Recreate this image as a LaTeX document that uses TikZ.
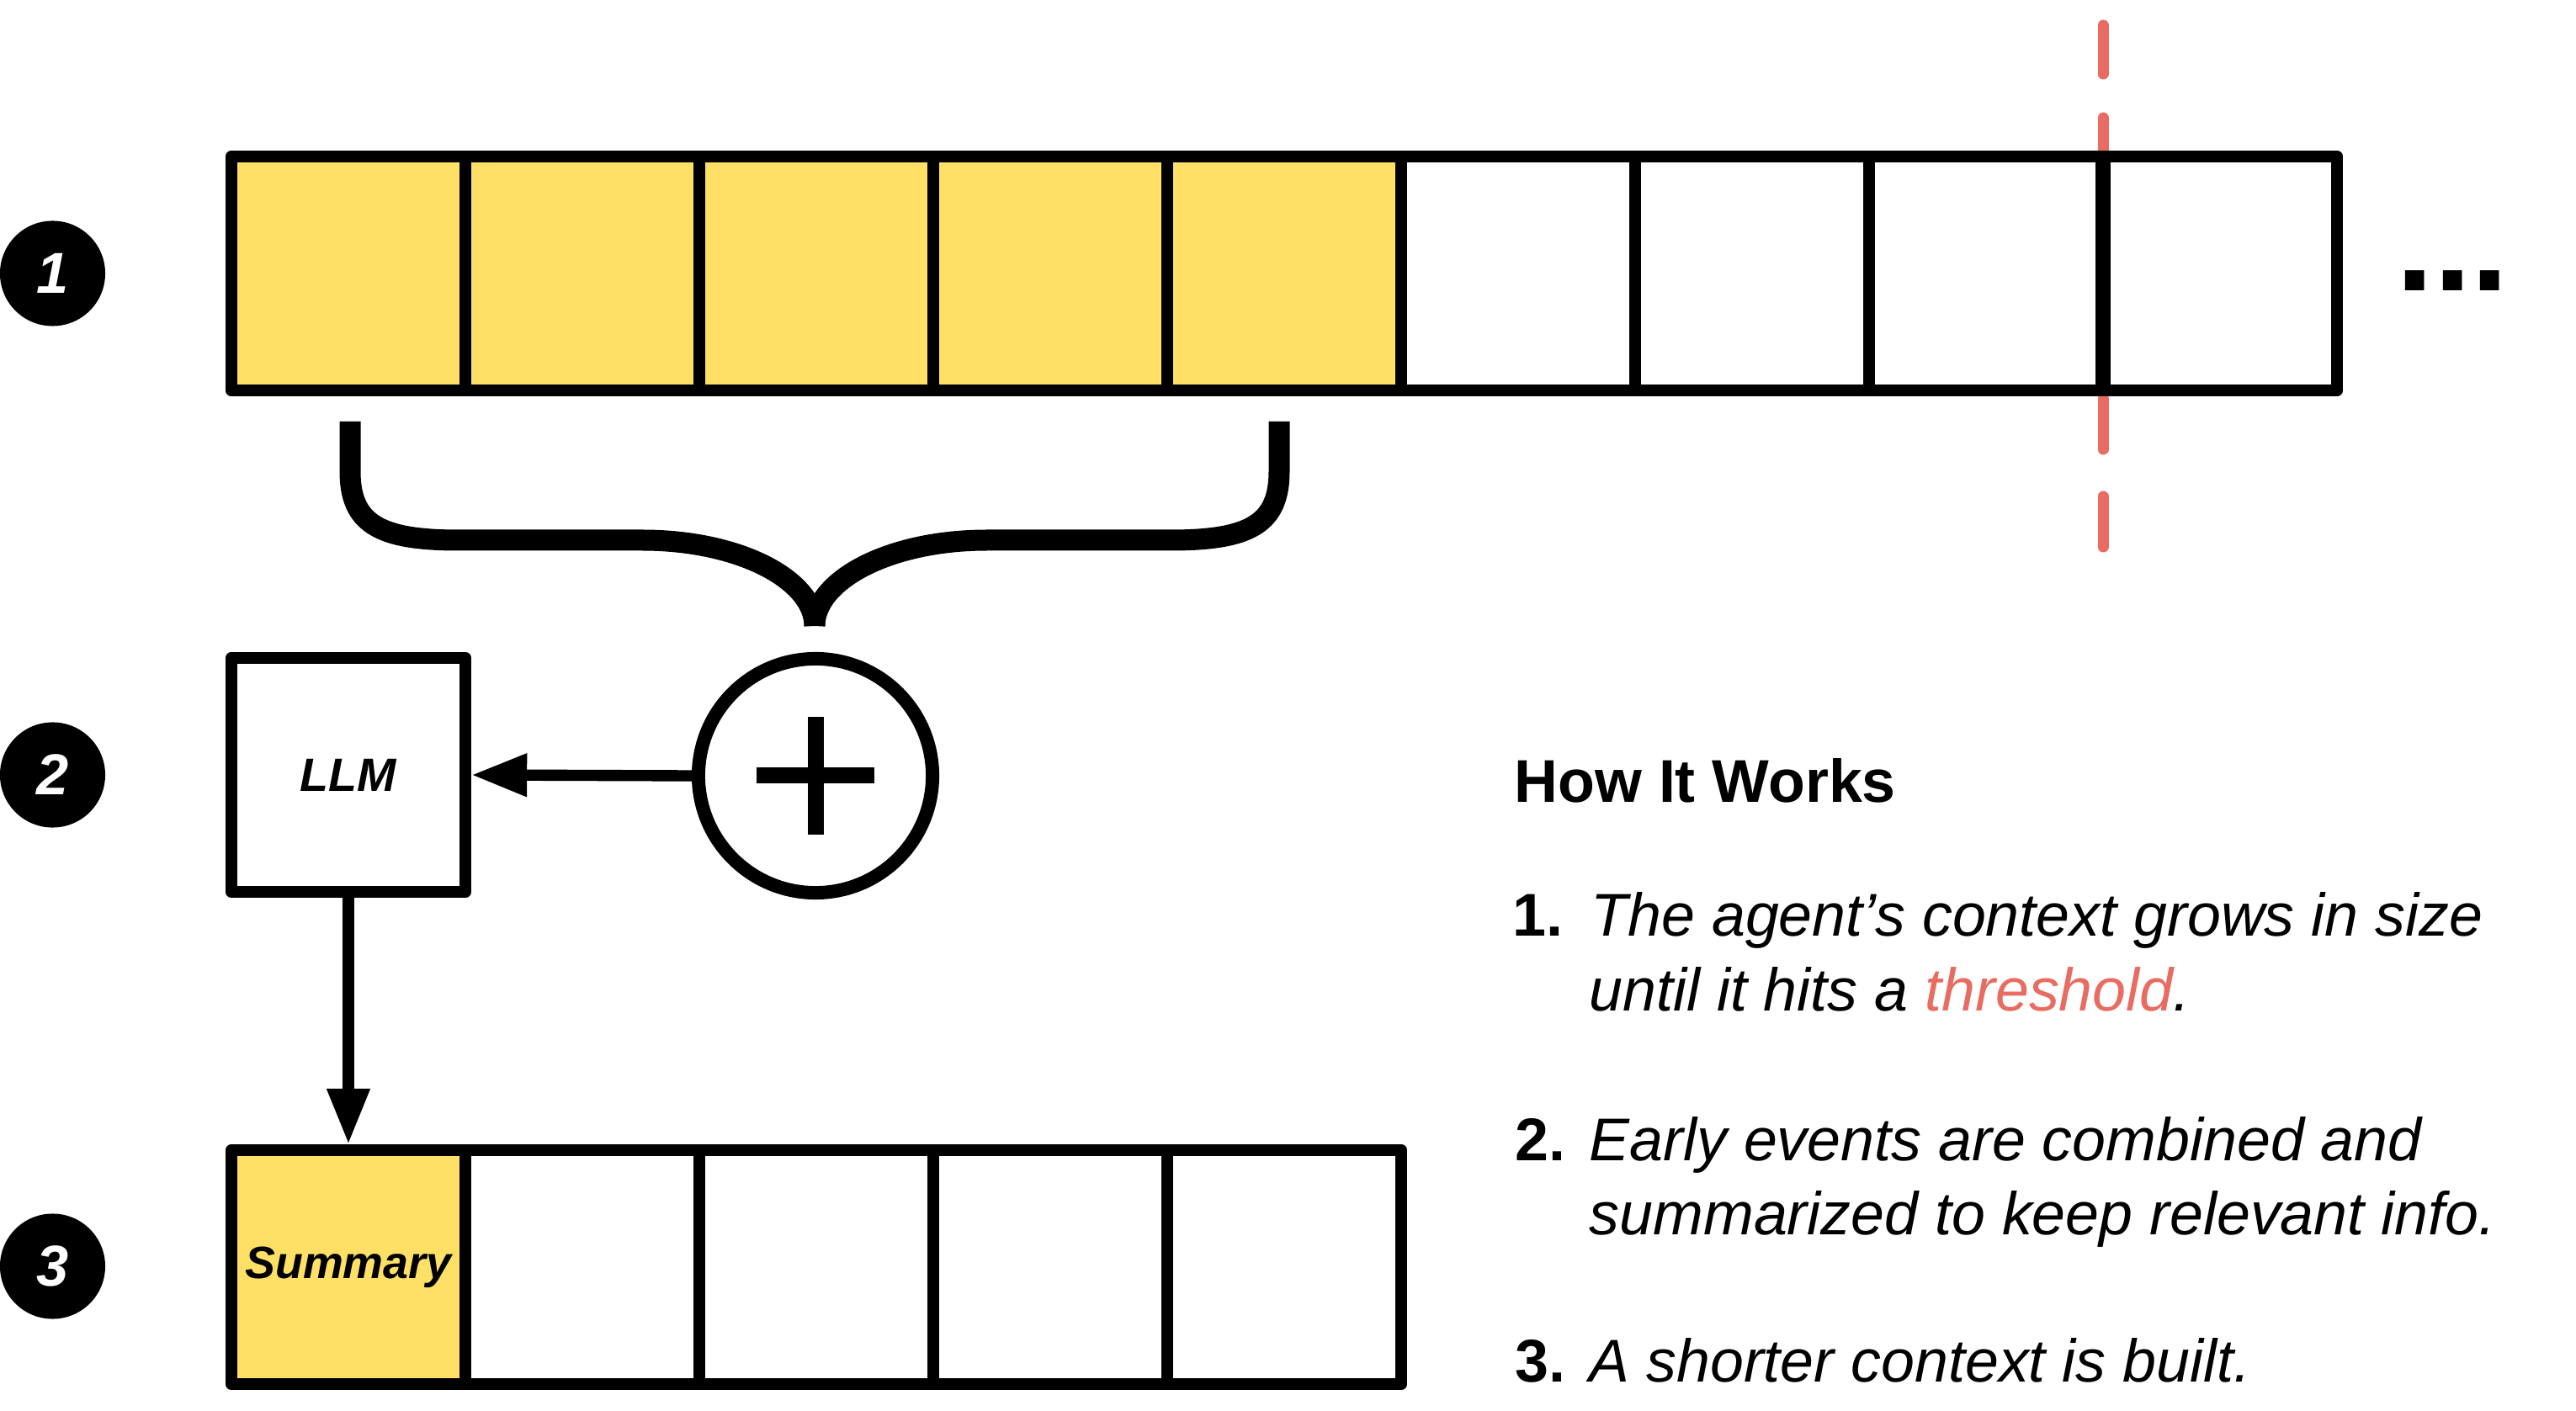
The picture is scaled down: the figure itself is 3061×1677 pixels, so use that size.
\documentclass[tikz,border=0pt]{standalone}
\usepackage{fontspec}
\setmainfont{Liberation Sans}
\usetikzlibrary{arrows.meta}
\definecolor{yel}{HTML}{FEE066}
\definecolor{thr}{HTML}{E86C61}
\newcommand\txtsize{\fontsize{20.4}{24.75}\selectfont}
\begin{document}
\begin{tikzpicture}[x=0.01cm,y=-0.01cm,
  cell/.style={draw, line width=3.98pt, minimum size=2.78cm, inner sep=0pt, line join=round},
  numc/.style={circle, fill=black, minimum size=1.25cm, inner sep=0pt, text=white,
    font=\fontsize{19.5}{20}\selectfont\bfseries\itshape},
  arr/.style={line width=3.8pt, -{Triangle[length=18.8pt,width=13.7pt]}},
  bracestyle/.style={line width=7.11pt, line cap=butt, line join=round},
  txt/.style={anchor=base west, inner sep=0pt, font=\txtsize},
  thrline/.style={thr, line width=3.7pt, line cap=round}]
\useasboundingbox (0,0) rectangle (3061,1677);

% threshold dashes
\foreach \a/\b in {30/88, 140/200, 474/534, 590/650}
  \draw[thrline] (2499,\a) -- (2499,\b);

% top row
\foreach \k in {1,...,5}
  \node[cell, fill=yel] (c\k) at ({136+278*\k},325) {};
\foreach \k in {6,...,9}
  \node[cell, fill=white] (c\k) at ({136+278*\k},325) {};
\draw[line width=5.12pt] (2499,181) -- (2499,469);

% dots
\node[anchor=base west, inner sep=0pt, font=\fontsize{45.5}{46}\selectfont\bfseries] (dots) at (2847,346) {...};

% number circles
\node[numc] (n1) at (62.5,325) {1};
\node[numc] (n2) at (62.5,921) {2};
\node[numc] (n3) at (62.5,1505) {3};

% brace
\draw[bracestyle] (416,501) -- (416,560) .. controls (416,622) and (450,642) .. (545,642)
  -- (763,642) .. controls (880,642) and (968,690) .. (968,744);
\draw[bracestyle] (1520,501) -- (1520,560) .. controls (1520,622) and (1486,642) .. (1391,642)
  -- (1173,642) .. controls (1056,642) and (968,690) .. (968,744);

% LLM box
\node[cell, fill=white, font=\fontsize{15.8}{16}\selectfont\bfseries\itshape] (llm) at (414,921) {LLM};

% plus circle
\node[circle, draw, line width=4.55pt, minimum size=2.78cm, inner sep=0pt] (plus) at (969,922) {};
\fill (959.5,852) rectangle (978.5,992);
\fill (899,912.5) rectangle (1039,931.5);

% bottom row
\node[cell, fill=yel, font=\fontsize{15.3}{16}\selectfont\bfseries\itshape] (s1) at (414,1506) {Summary};
\foreach \k in {2,...,5}
  \node[cell, fill=white] (s\k) at ({136+278*\k},1506) {};

% arrows
\draw[arr] (plus.west) -- (llm.east);
\draw[arr] (llm.south) -- (s1.north);

% text
\node[txt, font=\txtsize\bfseries] (hdr) at (1799,954) {How It Works};
\node[txt, font=\txtsize\bfseries] (i1n) at (1797,1113) {1.};
\node[txt, font=\txtsize\itshape] (i1a) at (1890,1113) {The agent’s context grows in size};
\node[txt, font=\txtsize\itshape] (i1b) at (1888,1201) {until it hits a \textcolor{thr}{threshold}.};
\node[txt, font=\txtsize\bfseries] (i2n) at (1800,1379) {2.};
\node[txt, font=\txtsize\itshape] (i2a) at (1888,1379) {Early events are combined and};
\node[txt, font=\txtsize\itshape] (i2b) at (1888,1467) {summarized to keep relevant info.};
\node[txt, font=\txtsize\bfseries] (i3n) at (1800,1642) {3.};
\node[txt, font=\txtsize\itshape] (i3a) at (1888,1642) {A shorter context is built.};
\end{tikzpicture}
\end{document}
